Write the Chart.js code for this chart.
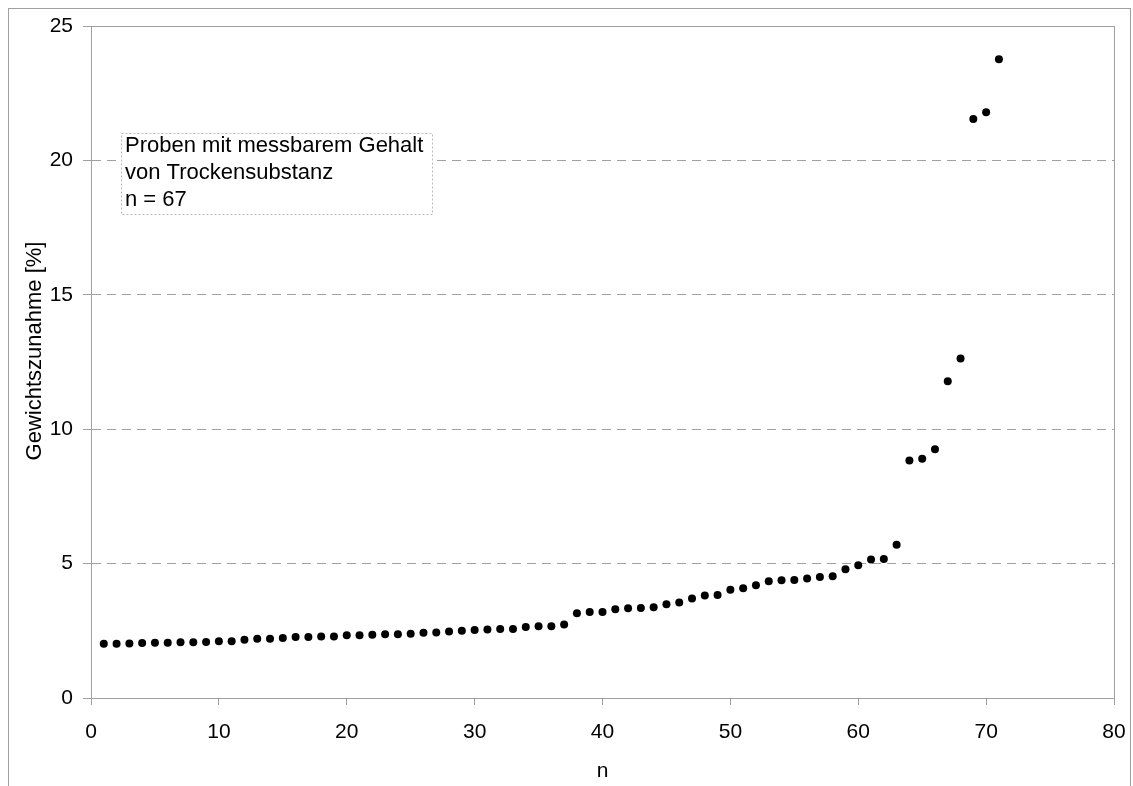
<!DOCTYPE html>
<html lang="de">

<head>
    <meta charset="UTF-8">
    <script src="https://cdn.jsdelivr.net/npm/chart.js"></script>
    <title>Gewichtszunahme</title>
    <style>
        body { margin: 0; background: #fff; }
        #wrap { width: 1133px; height: 786px; position: relative; }
    </style>
</head>

<body>
    <div id="wrap"><canvas id="myChart"></canvas></div>
    <script>
        // Probe-Nr. (n) und Gewichtszunahme in %
        const nValues = [];
        for (let i = 1; i <= 71; i++) nValues.push(i);
        const zunahme = [
            2.02, 2.02, 2.03, 2.05, 2.06, 2.06, 2.07, 2.07, 2.08, 2.11,
            2.11, 2.17, 2.20, 2.20, 2.23, 2.27, 2.27, 2.29, 2.29, 2.33,
            2.33, 2.35, 2.37, 2.37, 2.39, 2.43, 2.44, 2.47, 2.50, 2.53,
            2.55, 2.57, 2.57, 2.64, 2.67, 2.67, 2.73, 3.15, 3.20, 3.20,
            3.30, 3.34, 3.35, 3.38, 3.49, 3.55, 3.70, 3.81, 3.83, 4.03,
            4.08, 4.19, 4.34, 4.38, 4.39, 4.45, 4.50, 4.53, 4.79, 4.94,
            5.15, 5.17, 5.70, 8.84, 8.90, 9.25, 11.78, 12.63, 21.54, 21.79,
            23.76
        ];
        const xTicks = [0, 10, 20, 30, 40, 50, 60, 70, 80];
        const yTicks = [0, 5, 10, 15, 20, 25];
        const yTitle = 'Gewichtszunahme [%]';
        const boxLines = ["Proben mit messbarem Gehalt", "von Trockensubstanz", "n = 67"];

        const FONT = "'Liberation Sans', Arial, sans-serif";
        const GREY = '#a0a0a0';

        let points = nValues.map(function (n, i) { return { x: n, y: zunahme[i] }; });

        // Rahmen, Plotfläche, y-Titel und Textfeld
        const framePlugin = {
            id: 'frame',
            beforeDraw: function (chart) {
                let c = chart.ctx;
                c.save();
                c.fillStyle = '#fff';
                c.fillRect(0, 0, chart.width, chart.height);
                c.strokeStyle = GREY;
                c.lineWidth = 1;
                c.strokeRect(8.5, 8.5, 1122, 820);
                // y-Titel (etwas über der Mitte, wie im Original)
                c.translate(35, 351);
                c.rotate(-Math.PI / 2);
                c.fillStyle = '#000';
                c.font = '22px ' + FONT;
                c.textAlign = 'center';
                c.textBaseline = 'middle';
                c.fillText(yTitle, 0, 0);
                c.restore();
            },
            beforeDatasetsDraw: function (chart) {
                let a = chart.chartArea;
                let c = chart.ctx;
                c.save();
                c.strokeStyle = GREY;
                c.lineWidth = 1;
                c.strokeRect(Math.round(a.left) + 0.5, Math.round(a.top) + 0.5,
                    Math.round(a.right - a.left), Math.round(a.bottom - a.top));
                // Textfeld
                c.fillStyle = '#fff';
                c.fillRect(121, 133, 311, 81);
                c.setLineDash([2, 2]);
                c.strokeStyle = '#b8b8b8';
                c.strokeRect(121.5, 133.5, 311, 81);
                c.setLineDash([]);
                c.fillStyle = '#000';
                c.font = '22px ' + FONT;
                c.textBaseline = 'alphabetic';
                for (let i in boxLines) {
                    c.fillText(boxLines[i], 125, 152 + i * 27);
                }
                c.restore();
            }
        };

        let configs = {
            type: 'scatter'
            , data: {
                datasets: [{
                    data: points
                    , backgroundColor: '#000'
                    , borderColor: '#000'
                    , pointRadius: 4
                    , pointBorderWidth: 0
                    , pointHoverRadius: 4
                }]
            }
            , options: {
                responsive: true
                , maintainAspectRatio: false
                , animation: false
                , layout: { padding: { top: 26, right: 19, left: 0, bottom: 0 } }
                , plugins: { legend: { display: false }, tooltip: { enabled: false } }
                , scales: {
                    x: {
                        type: 'linear'
                        , min: 0, max: 80
                        , afterFit: function (s) { s.height = 88; s.paddingLeft = 0; s.paddingRight = 0; }
                        , afterBuildTicks: function (s) { s.ticks = xTicks.map(function (v) { return { value: v }; }); }
                        , grid: { drawOnChartArea: false, drawTicks: true, tickLength: 7, tickColor: GREY }
                        , border: { display: true, color: GREY, width: 1 }
                        , ticks: { color: '#000', padding: 15, maxRotation: 0, font: { family: FONT, size: 21 } }
                        , title: { display: true, text: 'n', color: '#000', padding: { top: 0, bottom: 2 }, font: { family: FONT, size: 21 } }
                    }
                    , y: {
                        min: 0, max: 25
                        , afterFit: function (s) { s.width = 91; s.paddingTop = 0; s.paddingBottom = 0; }
                        , afterBuildTicks: function (s) { s.ticks = yTicks.map(function (v) { return { value: v }; }); }
                        , grid: { color: GREY, tickColor: GREY, tickLength: 8, drawTicks: true }
                        , border: { display: true, color: GREY, width: 1, dash: [9, 6] }
                        , ticks: { color: '#000', padding: 10, font: { family: FONT, size: 21 } }
                    }
                }
            }
            , plugins: [framePlugin]
        };

        let myChart = new Chart(document.getElementById('myChart'), configs);
    </script>
</body>

</html>
